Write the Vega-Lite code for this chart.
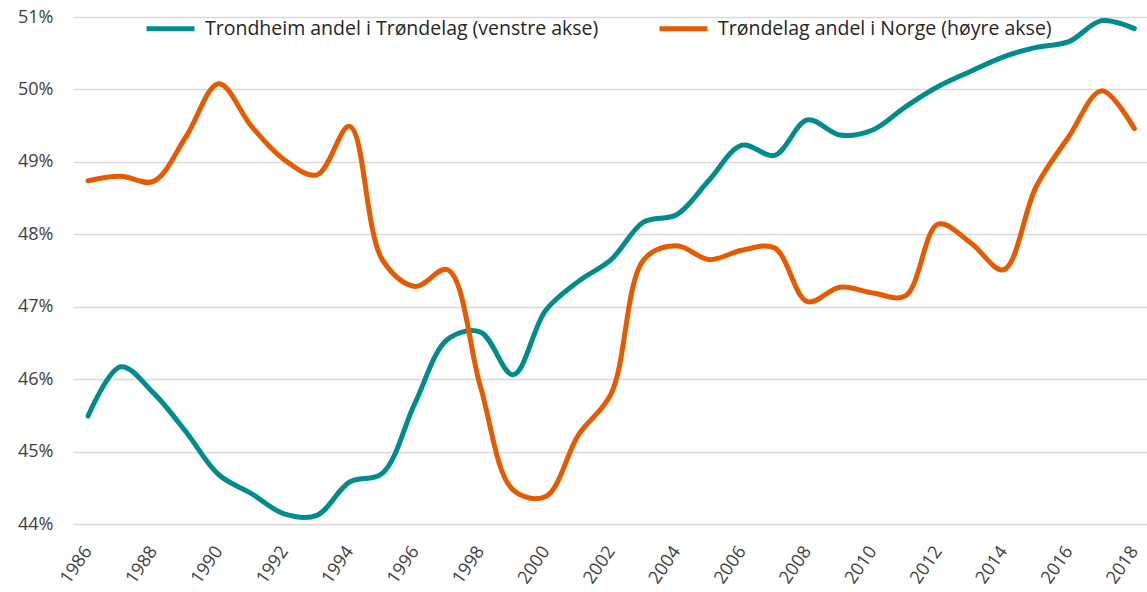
{
  "$schema": "https://vega.github.io/schema/vega-lite/v6.json",
  "width": 1074,
  "height": 507,
  "autosize": {"type": "none"},
  "padding": {"left": 73, "top": 17, "right": 0, "bottom": 68},
  "background": "white",
  "config": {
    "view": {"stroke": null},
    "font": "Open Sans"
  },
  "data": {
    "values": [
      {"year": 1986, "serie": "Trondheim andel i Trøndelag (venstre akse)", "value": 45.49},
      {"year": 1987, "serie": "Trondheim andel i Trøndelag (venstre akse)", "value": 46.17},
      {"year": 1988, "serie": "Trondheim andel i Trøndelag (venstre akse)", "value": 45.81},
      {"year": 1989, "serie": "Trondheim andel i Trøndelag (venstre akse)", "value": 45.27},
      {"year": 1990, "serie": "Trondheim andel i Trøndelag (venstre akse)", "value": 44.68},
      {"year": 1991, "serie": "Trondheim andel i Trøndelag (venstre akse)", "value": 44.42},
      {"year": 1992, "serie": "Trondheim andel i Trøndelag (venstre akse)", "value": 44.14},
      {"year": 1993, "serie": "Trondheim andel i Trøndelag (venstre akse)", "value": 44.12},
      {"year": 1994, "serie": "Trondheim andel i Trøndelag (venstre akse)", "value": 44.58},
      {"year": 1995, "serie": "Trondheim andel i Trøndelag (venstre akse)", "value": 44.70},
      {"year": 1996, "serie": "Trondheim andel i Trøndelag (venstre akse)", "value": 45.67},
      {"year": 1997, "serie": "Trondheim andel i Trøndelag (venstre akse)", "value": 46.55},
      {"year": 1998, "serie": "Trondheim andel i Trøndelag (venstre akse)", "value": 46.65},
      {"year": 1999, "serie": "Trondheim andel i Trøndelag (venstre akse)", "value": 46.06},
      {"year": 2000, "serie": "Trondheim andel i Trøndelag (venstre akse)", "value": 46.95},
      {"year": 2001, "serie": "Trondheim andel i Trøndelag (venstre akse)", "value": 47.35},
      {"year": 2002, "serie": "Trondheim andel i Trøndelag (venstre akse)", "value": 47.65},
      {"year": 2003, "serie": "Trondheim andel i Trøndelag (venstre akse)", "value": 48.17},
      {"year": 2004, "serie": "Trondheim andel i Trøndelag (venstre akse)", "value": 48.27},
      {"year": 2005, "serie": "Trondheim andel i Trøndelag (venstre akse)", "value": 48.75},
      {"year": 2006, "serie": "Trondheim andel i Trøndelag (venstre akse)", "value": 49.23},
      {"year": 2007, "serie": "Trondheim andel i Trøndelag (venstre akse)", "value": 49.09},
      {"year": 2008, "serie": "Trondheim andel i Trøndelag (venstre akse)", "value": 49.58},
      {"year": 2009, "serie": "Trondheim andel i Trøndelag (venstre akse)", "value": 49.37},
      {"year": 2010, "serie": "Trondheim andel i Trøndelag (venstre akse)", "value": 49.44},
      {"year": 2011, "serie": "Trondheim andel i Trøndelag (venstre akse)", "value": 49.76},
      {"year": 2012, "serie": "Trondheim andel i Trøndelag (venstre akse)", "value": 50.04},
      {"year": 2013, "serie": "Trondheim andel i Trøndelag (venstre akse)", "value": 50.25},
      {"year": 2014, "serie": "Trondheim andel i Trøndelag (venstre akse)", "value": 50.45},
      {"year": 2015, "serie": "Trondheim andel i Trøndelag (venstre akse)", "value": 50.58},
      {"year": 2016, "serie": "Trondheim andel i Trøndelag (venstre akse)", "value": 50.66},
      {"year": 2017, "serie": "Trondheim andel i Trøndelag (venstre akse)", "value": 50.95},
      {"year": 2018, "serie": "Trondheim andel i Trøndelag (venstre akse)", "value": 50.84},
      {"year": 1986, "serie": "Trøndelag andel i Norge (høyre akse)", "value": 48.74},
      {"year": 1987, "serie": "Trøndelag andel i Norge (høyre akse)", "value": 48.80},
      {"year": 1988, "serie": "Trøndelag andel i Norge (høyre akse)", "value": 48.73},
      {"year": 1989, "serie": "Trøndelag andel i Norge (høyre akse)", "value": 49.35},
      {"year": 1990, "serie": "Trøndelag andel i Norge (høyre akse)", "value": 50.08},
      {"year": 1991, "serie": "Trøndelag andel i Norge (høyre akse)", "value": 49.49},
      {"year": 1992, "serie": "Trøndelag andel i Norge (høyre akse)", "value": 49.03},
      {"year": 1993, "serie": "Trøndelag andel i Norge (høyre akse)", "value": 48.82},
      {"year": 1994, "serie": "Trøndelag andel i Norge (høyre akse)", "value": 49.49},
      {"year": 1995, "serie": "Trøndelag andel i Norge (høyre akse)", "value": 47.65},
      {"year": 1996, "serie": "Trøndelag andel i Norge (høyre akse)", "value": 47.28},
      {"year": 1997, "serie": "Trøndelag andel i Norge (høyre akse)", "value": 47.51},
      {"year": 1998, "serie": "Trøndelag andel i Norge (høyre akse)", "value": 45.90},
      {"year": 1999, "serie": "Trøndelag andel i Norge (høyre akse)", "value": 44.47},
      {"year": 2000, "serie": "Trøndelag andel i Norge (høyre akse)", "value": 44.38},
      {"year": 2001, "serie": "Trøndelag andel i Norge (høyre akse)", "value": 45.23},
      {"year": 2002, "serie": "Trøndelag andel i Norge (høyre akse)", "value": 45.80},
      {"year": 2003, "serie": "Trøndelag andel i Norge (høyre akse)", "value": 47.65},
      {"year": 2004, "serie": "Trøndelag andel i Norge (høyre akse)", "value": 47.84},
      {"year": 2005, "serie": "Trøndelag andel i Norge (høyre akse)", "value": 47.65},
      {"year": 2006, "serie": "Trøndelag andel i Norge (høyre akse)", "value": 47.78},
      {"year": 2007, "serie": "Trøndelag andel i Norge (høyre akse)", "value": 47.81},
      {"year": 2008, "serie": "Trøndelag andel i Norge (høyre akse)", "value": 47.07},
      {"year": 2009, "serie": "Trøndelag andel i Norge (høyre akse)", "value": 47.27},
      {"year": 2010, "serie": "Trøndelag andel i Norge (høyre akse)", "value": 47.19},
      {"year": 2011, "serie": "Trøndelag andel i Norge (høyre akse)", "value": 47.15},
      {"year": 2012, "serie": "Trøndelag andel i Norge (høyre akse)", "value": 48.14},
      {"year": 2013, "serie": "Trøndelag andel i Norge (høyre akse)", "value": 47.88},
      {"year": 2014, "serie": "Trøndelag andel i Norge (høyre akse)", "value": 47.51},
      {"year": 2015, "serie": "Trøndelag andel i Norge (høyre akse)", "value": 48.66},
      {"year": 2016, "serie": "Trøndelag andel i Norge (høyre akse)", "value": 49.35},
      {"year": 2017, "serie": "Trøndelag andel i Norge (høyre akse)", "value": 49.98},
      {"year": 2018, "serie": "Trøndelag andel i Norge (høyre akse)", "value": 49.46}
    ]
  },
  "mark": {"type": "line", "interpolate": "catmull-rom", "strokeWidth": 5, "strokeCap": "round"},
  "encoding": {
    "x": {
      "field": "year",
      "type": "quantitative",
      "scale": {"domain": [1985.541, 2018.388], "nice": false, "zero": false},
      "axis": {
        "title": null,
        "values": [1986, 1988, 1990, 1992, 1994, 1996, 1998, 2000, 2002, 2004, 2006, 2008, 2010, 2012, 2014, 2016, 2018],
        "format": "d",
        "labelAngle": -55,
        "labelAlign": "right",
        "labelBaseline": "middle",
        "labelFontSize": 18,
        "labelColor": "#404040",
        "labelPadding": 24,
        "ticks": false,
        "domain": false,
        "grid": false,
        "labelFlush": false,
        "labelOverlap": false
      }
    },
    "y": {
      "field": "value",
      "type": "quantitative",
      "scale": {"domain": [44, 51], "nice": false, "zero": false},
      "axis": {
        "title": null,
        "values": [44, 45, 46, 47, 48, 49, 50, 51],
        "labelExpr": "datum.value + '%'",
        "labelFontSize": 18,
        "labelColor": "#404040",
        "labelPadding": 20,
        "ticks": false,
        "domain": false,
        "grid": true,
        "gridColor": "#d9d9d9",
        "gridWidth": 1.5
      }
    },
    "color": {
      "field": "serie",
      "type": "nominal",
      "scale": {
        "domain": ["Trondheim andel i Trøndelag (venstre akse)", "Trøndelag andel i Norge (høyre akse)"],
        "range": ["#008C8C", "#E65A00"]
      },
      "legend": {
        "title": null,
        "orient": "none",
        "direction": "horizontal",
        "legendX": 71,
        "legendY": -15,
        "symbolType": "stroke",
        "symbolSize": 2300,
        "symbolStrokeWidth": 5,
        "labelFontSize": 19.5,
        "labelColor": "#262626",
        "labelLimit": 500,
        "columnPadding": 50,
        "symbolOffset": 0,
        "labelOffset": 8
      }
    }
  }
}
